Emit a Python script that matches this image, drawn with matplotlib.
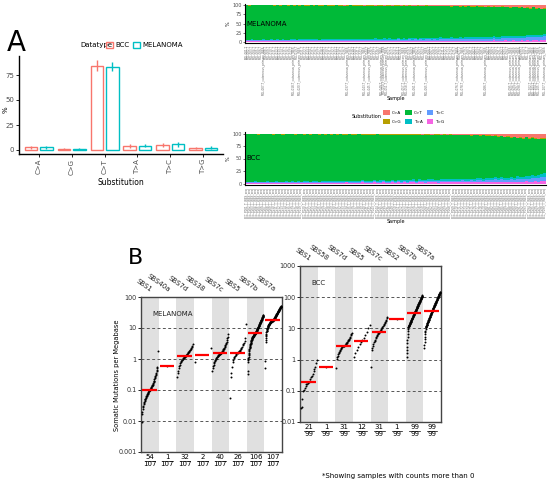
import numpy as np
import matplotlib
matplotlib.use("Agg")
import matplotlib.pyplot as plt
from matplotlib.patches import Patch

# ---------------- Panel A data ----------------
subs = ["C>A", "C>G", "C>T", "T>A", "T>C", "T>G"]
bcc_mean = [2.7, 1.0, 84.3, 4.0, 5.2, 2.1]
bcc_err = [1.5, 0.9, 5.5, 1.7, 2.3, 1.2]
mel_mean = [2.6, 1.0, 83.3, 4.3, 5.8, 2.5]
mel_err = [1.5, 0.8, 4.3, 1.6, 2.3, 1.4]

# ---------------- Stacked per-sample spectra (percent) ----------------
mel_tg = [2,2,3,2,2,2,3,2,2,2, 2,3,2,2,2,2,3,2,2,3, 2,2,2,3,2,2,2,3,2,2, 3,2,2,2,3,2,2,3,2,2,
          2,3,2,3,2,2,3,2,2,3, 2,2,3,2,3,2,2,3,3,2, 3,2,3,2,3,3,2,3,2,3, 3,2,3,3,2,3,3,2,3,3,
          3,2,3,3,3,2,3,3,4,3, 3,3,4,3,3,4,3,3,4,3, 4,3,4,4,3,4,5]
mel_tc = [2,2,2,2,2,2,2,2,2,2, 2,2,2,2,2,2,2,3,2,2, 2,3,2,2,3,2,2,3,2,3, 2,3,3,2,3,3,2,3,3,3,
          3,3,3,3,3,3,3,3,3,3, 3,4,3,3,4,3,4,3,4,4, 4,3,4,4,4,4,4,4,4,5, 4,5,4,5,5,4,5,5,5,5,
          5,5,6,5,5,6,6,5,6,6, 6,7,6,7,7,6,7,8,7,8, 8,9,8,9,10,9,10]
mel_ta = [2,2,2,2,2,2,2,2,2,3, 2,2,2,3,2,2,3,2,2,3, 3,2,3,2,3,3,2,3,3,3, 3,3,3,3,3,3,3,3,3,3,
          3,3,4,3,3,3,4,3,3,4, 3,4,3,4,3,4,4,3,4,4, 4,4,4,4,4,4,4,4,4,4, 4,4,4,5,4,4,5,4,5,4,
          5,5,4,5,5,5,5,5,5,5, 5,5,5,6,5,5,6,6,5,6, 6,6,6,7,6,7,7]
mel_cg = [0,1,0,0,1,0,0,1,0,0, 1,0,1,0,0,1,0,1,0,1, 0,1,1,0,1,0,1,1,0,1, 1,1,0,1,1,1,1,0,1,1,
          1,1,1,1,1,1,1,1,1,1, 1,1,1,1,1,1,1,1,1,1, 1,1,1,1,1,1,1,1,1,1, 1,1,1,1,1,1,1,1,1,1,
          1,1,1,1,1,1,1,1,1,1, 1,1,1,1,1,1,1,1,1,1, 1,2,1,1,2,1,2]
mel_ca = [0,1,0,1,0,1,1,0,1,1, 1,1,1,1,1,1,1,1,1,1, 1,1,1,1,1,1,1,1,1,1, 1,1,1,1,1,2,1,1,1,1,
          1,1,2,1,1,1,2,1,1,2, 1,1,2,1,1,2,1,2,1,2, 2,1,2,2,1,2,2,2,2,2, 2,2,2,3,2,2,3,2,3,2,
          3,3,2,3,3,4,3,4,3,5, 4,3,5,4,6,5,4,6,5,7, 6,8,5,9,7,10,8]

bcc_tg = [2,2,2,2,2,2,2,2,2,2, 2,2,2,2,2,2,2,2,2,2, 2,2,2,2,2,2,2,2,2,2, 2,2,2,3,2,2,2,2,3,2,
          2,2,3,2,2,3,2,2,3,2, 3,2,3,2,3,3,2,3,3,2, 3,3,3,2,3,3,3,3,3,3, 3,3,3,3,3,3,4,3,3,3,
          4,3,4,3,4,4,3,4,4,4, 4,4,5,4,4,5,4,5,5]
bcc_tc = [1,1,1,1,1,1,1,1,1,1, 1,1,1,1,1,1,1,2,1,1, 1,1,2,1,1,2,1,1,2,1, 2,1,2,1,2,2,1,2,2,2,
          2,2,2,2,2,2,2,2,2,2, 2,2,3,2,2,3,2,3,2,3, 3,3,2,3,3,3,3,3,3,3, 3,4,3,3,4,3,4,4,3,4,
          4,4,5,4,5,4,5,5,4,6, 5,6,5,6,7,6,7,8,9]
bcc_ta = [1,1,1,2,1,1,1,2,1,1, 2,1,1,2,1,2,1,2,1,2, 2,1,2,2,1,2,2,2,2,2, 2,2,2,2,2,2,2,2,2,2,
          2,2,2,2,3,2,2,2,3,2, 2,3,2,3,2,3,2,3,3,3, 3,3,3,3,3,3,3,3,3,3, 3,3,4,3,3,4,3,4,3,4,
          4,4,4,4,4,4,4,5,4,5, 5,4,5,5,6,5,6,6,7]
bcc_cg = [0,0,0,0,1,0,0,0,0,1, 0,0,1,0,0,0,1,0,0,1, 0,1,0,0,1,0,1,0,1,0, 1,0,1,1,0,1,1,0,1,1,
          1,1,1,0,1,1,1,1,1,1, 1,1,1,1,1,1,1,1,1,1, 1,1,1,1,1,1,1,1,1,1, 1,1,1,1,1,1,1,1,1,1,
          1,1,1,1,1,1,1,1,1,1, 1,2,1,1,1,2,1,2,2]
bcc_ca = [1,1,1,1,1,1,1,1,1,1, 1,1,1,1,1,1,1,1,1,1, 1,1,1,1,1,1,1,1,1,1, 1,1,1,1,1,1,1,1,1,1,
          1,1,1,1,1,1,1,1,1,1, 1,1,1,1,1,1,1,1,2,1, 1,2,1,1,2,1,2,1,2,2, 2,2,2,2,3,2,2,3,2,3,
          3,4,3,5,4,6,5,7,6,8, 7,8,6,9,7,8,10,9,8]

mel_long_idx = [6, 17, 19, 36, 42, 44, 48, 49, 50, 56, 57, 60, 64, 75, 77, 85,
                94, 95, 96, 97, 101, 102, 103, 104, 106]
mel_samples = [f"MEL-{i + 1:03d}-T" + ("_cutaneous_primary_WES" if i in mel_long_idx else "")
               for i in range(len(mel_tg))]
bcc_samples = [f"BCC_P{i + 1:03d}_T_WES_seq" for i in range(len(bcc_tg))]

sub_colors = {"C>A": "#F8766D", "C>G": "#B79F00", "C>T": "#00BA38",
              "T>A": "#00BFC4", "T>C": "#619CFF", "T>G": "#F564E3"}

# ---------------- Panel B data (mutations / Mb, sorted) ----------------
mel_sigs = ["SBS1", "SBS40a", "SBS7d", "SBS38", "SBS7c", "SBS5", "SBS7b", "SBS7a"]
mel_counts = ["54", "1", "32", "2", "40", "26", "106", "107"]
mel_total = "107"
mel_vals = [
    [0.009, 0.017, 0.02, 0.024, 0.028, 0.031, 0.035, 0.038, 0.042, 0.045,
     0.048, 0.05, 0.053, 0.056, 0.06, 0.063, 0.066, 0.07, 0.073, 0.076,
     0.08, 0.083, 0.086, 0.09, 0.093, 0.096, 0.1, 0.102, 0.106, 0.11,
     0.115, 0.12, 0.125, 0.13, 0.135, 0.14, 0.15, 0.16, 0.17, 0.18,
     0.19, 0.2, 0.22, 0.24, 0.26, 0.28, 0.3, 0.33, 0.36, 0.4, 0.45, 0.5, 0.55, 1.8],
    [0.6],
    [0.27, 0.35, 0.42, 0.5, 0.58, 0.65, 0.72, 0.78, 0.84, 0.9, 0.95, 1.0, 1.05, 1.1, 1.15, 1.2,
     1.22, 1.27, 1.33, 1.4, 1.48, 1.55, 1.63, 1.72, 1.8, 1.9, 2.0, 2.15, 2.3, 2.5, 2.7, 3.0],
    [0.82, 2.3],
    [0.42, 0.5, 0.58, 0.65, 0.72, 0.8, 0.86, 0.92, 0.98, 1.03, 1.08, 1.13, 1.18, 1.23, 1.28,
     1.33, 1.38, 1.43, 1.47, 1.5, 1.52, 1.57, 1.62, 1.7, 1.78, 1.86, 1.95, 2.05, 2.15, 2.3,
     2.45, 2.6, 2.8, 3.0, 3.3, 3.6, 4.0, 4.6, 5.3, 6.3],
    [0.056, 0.27, 0.35, 0.55, 0.8, 0.95, 1.05, 1.15, 1.25, 1.35, 1.45, 1.52, 1.58, 1.65, 1.75,
     1.85, 2.0, 2.15, 2.3, 2.5, 2.75, 3.0, 3.4, 3.9, 4.8, 13.5],
    [0.33, 0.4, 0.82, 0.9, 1.0, 1.1, 1.2, 1.3, 1.45, 1.6, 1.75, 1.9, 2.05, 2.2, 2.35, 2.5, 2.65,
     2.8, 2.95, 3.1, 3.25, 3.4, 3.55, 3.7, 3.85, 4.0, 4.15, 4.3, 4.45, 4.6, 4.75, 4.9, 5.0, 5.1,
     5.2, 5.3, 5.4, 5.5, 5.6, 5.7, 5.8, 5.9, 6.0, 6.1, 6.2, 6.3, 6.4, 6.5, 6.6, 6.7, 6.8, 6.9,
     7.0, 7.1, 7.28, 7.46, 7.65, 7.85, 8.05, 8.25, 8.46, 8.67, 8.89, 9.12, 9.35, 9.58, 9.83,
     10.1, 10.3, 10.6, 10.9, 11.1, 11.4, 11.7, 12.0, 12.3, 12.6, 12.9, 13.3, 13.6, 14.0, 14.3,
     14.7, 15.0, 15.4, 15.8, 16.2, 16.6, 17.0, 17.5, 17.9, 18.4, 18.8, 19.3, 19.8, 20.3, 20.8,
     21.3, 21.9, 22.4, 23.0, 23.6, 24.2, 24.8, 25.4, 26.0],
    [0.52, 0.84, 3.6, 4.2, 4.8, 5.4, 6.0, 6.6, 7.2, 7.8, 8.3, 8.7, 9.1, 9.5, 9.9, 10.3, 10.6,
     10.9, 11.2, 11.5, 11.8, 12.1, 12.4, 12.7, 13.0, 13.3, 13.5, 13.7, 13.9, 14.1, 14.3, 14.5,
     14.7, 14.9, 15.1, 15.3, 15.5, 15.7, 15.9, 16.1, 16.3, 16.5, 16.7, 16.8, 16.9, 17.0, 17.1,
     17.2, 17.3, 17.4, 17.5, 17.55, 17.6, 17.7, 18.1, 18.4, 18.8, 19.2, 19.6, 20.0, 20.4, 20.8,
     21.2, 21.6, 22.1, 22.5, 23.0, 23.4, 23.9, 24.4, 24.9, 25.4, 25.9, 26.4, 27.0, 27.5, 28.1,
     28.7, 29.2, 29.8, 30.4, 31.1, 31.7, 32.3, 33.0, 33.7, 34.4, 35.1, 35.8, 36.5, 37.2, 38.0,
     38.7, 39.5, 40.3, 41.1, 42.0, 42.8, 43.7, 44.6, 45.5, 46.4, 47.3, 48.3, 49.3, 50.3, 51.3],
]

bcc_sigs = ["SBS1", "SBS58", "SBS7d", "SBS5", "SBS7c", "SBS2", "SBS7b", "SBS7a"]
bcc_counts = ["21", "1", "31", "12", "31", "1", "99", "99"]
bcc_total = "99"
bcc_vals = [
    [0.029, 0.03, 0.054, 0.1, 0.11, 0.12, 0.14, 0.16, 0.17, 0.18, 0.19, 0.21, 0.24, 0.27, 0.3,
     0.35, 0.42, 0.5, 0.6, 0.75, 0.95],
    [0.6],
    [0.54, 1.07, 1.2, 1.35, 1.5, 1.65, 1.8, 1.95, 2.1, 2.25, 2.4, 2.5, 2.6, 2.7, 2.75, 2.8, 2.9,
     3.0, 3.15, 3.3, 3.5, 3.7, 3.9, 4.1, 4.4, 4.7, 5.0, 5.5, 6.0, 6.6, 7.3],
    [1.2, 1.6, 2.1, 2.6, 3.2, 3.8, 4.2, 5.0, 6.2, 7.8, 10.0, 13.0],
    [0.56, 2.05, 2.4, 2.8, 3.2, 3.6, 4.0, 4.4, 4.9, 5.4, 5.9, 6.3, 6.7, 7.0, 7.3, 7.6, 8.0, 8.5,
     9.0, 9.6, 10.2, 11.0, 11.8, 12.7, 13.7, 14.8, 16.0, 17.5, 19.0, 21.0, 23.5],
    [20.0],
    [1.25, 1.6, 2.0, 2.6, 3.3, 4.2, 5.2, 6.5, 8.0, 9.5, 11.0, 11.3, 11.6, 11.9, 12.3, 12.6, 12.9,
     13.3, 13.7, 14.0, 14.4, 14.8, 15.2, 15.6, 16.1, 16.5, 17.0, 17.4, 17.9, 18.4, 18.9, 19.4,
     19.9, 20.5, 21.0, 21.6, 22.2, 22.8, 23.4, 24.1, 24.7, 25.4, 26.1, 26.8, 27.6, 28.3, 29.1,
     29.9, 30.7, 31.6, 32.5, 33.4, 34.3, 35.2, 36.2, 37.1, 38.1, 39.2, 40.2, 41.3, 42.4, 43.6,
     44.8, 46.0, 47.2, 48.5, 49.8, 51.1, 52.5, 53.9, 55.4, 56.9, 58.4, 60.0, 61.6, 63.2, 65.0,
     66.7, 68.5, 70.4, 72.3, 74.2, 76.2, 78.3, 80.4, 82.6, 84.8, 87.1, 89.4, 91.8, 94.3, 96.9,
     99.5, 102, 105, 108, 111, 113, 116],
    [2.4, 3.0, 3.7, 4.5, 5.4, 6.4, 7.4, 8.5, 9.6, 10.7, 11.0, 11.4, 11.8, 12.1, 12.5, 12.9, 13.3,
     13.7, 14.1, 14.6, 15.0, 15.5, 16.0, 16.5, 17.0, 17.5, 18.1, 18.6, 19.2, 19.8, 20.4, 21.1,
     21.7, 22.4, 23.1, 23.9, 24.6, 25.4, 26.2, 27.0, 27.9, 28.7, 29.6, 30.6, 31.5, 32.5, 33.5,
     34.6, 35.7, 36.9, 38.0, 39.0, 40.2, 41.3, 42.5, 43.7, 45.0, 46.3, 47.6, 49.0, 50.4, 51.8,
     53.3, 54.8, 56.4, 58.0, 59.7, 61.4, 63.2, 65.0, 66.8, 68.7, 70.7, 72.7, 74.8, 77.0, 79.2,
     81.5, 83.8, 86.2, 88.7, 91.2, 93.8, 96.5, 99.3, 102, 105, 108, 111, 114, 117, 121, 124,
     128, 131, 135, 139, 143, 148],
]

# ---------------- Figure ----------------
W, H = 550, 483
fig = plt.figure(figsize=(W / 100, H / 100), dpi=100)
fig.patch.set_facecolor("white")
GREY = "#4d4d4d"


def add_ax(l, t, r, b):
    return fig.add_axes([l / W, 1 - b / H, (r - l) / W, (b - t) / H])


def fx(x):
    return x / W


def fy(y):
    return 1 - y / H


# ---- Panel A ----
axA = add_ax(19, 56, 223, 154)
x = np.arange(1, len(subs) + 1)
off, bw = 0.235, 0.38
axA.bar(x - off, bcc_mean, width=bw, facecolor="none", edgecolor="#F8766D", lw=1.0)
axA.bar(x + off, mel_mean, width=bw, facecolor="none", edgecolor="#00BFC4", lw=1.0)
axA.vlines(x - off, np.array(bcc_mean) - np.array(bcc_err), np.array(bcc_mean) + np.array(bcc_err),
           color="#F8766D", lw=1.0)
axA.vlines(x + off, np.array(mel_mean) - np.array(mel_err), np.array(mel_mean) + np.array(mel_err),
           color="#00BFC4", lw=1.0)
axA.set_xlim(0.4, 6.6)
axA.set_ylim(-4, 94)
axA.set_yticks([0, 25, 50, 75])
axA.set_xticks(x)
axA.set_xticklabels(subs, rotation=90)
axA.tick_params(labelsize=5, labelcolor=GREY, length=2, width=0.6, pad=1.5)
for s in ["top", "right"]:
    axA.spines[s].set_visible(False)
for s in ["left", "bottom"]:
    axA.spines[s].set_linewidth(1.0)
fig.text(fx(6), fy(110), "%", fontsize=5, rotation=90, ha="center", va="center")
axA.set_xlabel("Substitution", fontsize=5.5, labelpad=2)
fig.text(fx(7), fy(43), "A", fontsize=20, va="center", ha="left")
fig.text(fx(80), fy(45), "Datatype", fontsize=5, va="center", ha="left")
fig.legend(handles=[Patch(facecolor="none", edgecolor="#F8766D", lw=1.0),
                    Patch(facecolor="none", edgecolor="#00BFC4", lw=1.0)],
           labels=["BCC", "MELANOMA"], loc="center left", bbox_to_anchor=(fx(106), fy(45)),
           ncol=2, frameon=False, fontsize=5, handlelength=1.0, handleheight=1.0,
           columnspacing=0.5, handletextpad=0.35, borderpad=0, borderaxespad=0)

# ---- Stacked spectra panels ----
order = ["T>G", "T>C", "T>A", "C>T", "C>G", "C>A"]


def stacked(ax, tg, tc, ta, cg, ca, names, label):
    tg, tc, ta, cg, ca = [np.array(v, float) for v in (tg, tc, ta, cg, ca)]
    ct = 100 - (tg + tc + ta + cg + ca)
    comp = {"T>G": tg, "T>C": tc, "T>A": ta, "C>T": ct, "C>G": cg, "C>A": ca}
    n = len(tg)
    xs = np.arange(n)
    bottom = np.zeros(n)
    for k in order:
        ax.bar(xs, comp[k], bottom=bottom, width=1.0, color=sub_colors[k], lw=0)
        bottom += comp[k]
    ax.set_xlim(-0.5, n - 0.5)
    ax.set_ylim(-3, 103)
    ax.set_yticks([0, 25, 50, 75, 100])
    ax.set_xticks(xs)
    ax.set_xticklabels(names, rotation=90, fontsize=2)
    ax.tick_params(axis="x", labelcolor="#666666", length=1, width=0.3, pad=0.5)
    ax.tick_params(axis="y", labelsize=3.5, labelcolor=GREY, length=1.5, width=0.4, pad=1)
    for s in ["top", "right"]:
        ax.spines[s].set_visible(False)
    for s in ["left", "bottom"]:
        ax.spines[s].set_linewidth(0.8)
    ax.set_ylabel("%", fontsize=3.5, labelpad=1)
    ax.set_xlabel("Sample", fontsize=3.5, labelpad=1)
    ax.text(0.005, 0.5, label, transform=ax.transAxes, fontsize=5, va="center", ha="left")


axM = add_ax(245, 4, 546, 43)
stacked(axM, mel_tg, mel_tc, mel_ta, mel_cg, mel_ca, mel_samples, "MELANOMA")
axS = add_ax(245, 132, 546, 185)
stacked(axS, bcc_tg, bcc_tc, bcc_ta, bcc_cg, bcc_ca, bcc_samples, "BCC")

fig.text(fx(381), fy(117), "Substitution", fontsize=3.5, ha="right", va="center")
fig.legend(handles=[Patch(facecolor=sub_colors[k], lw=0) for k in subs], labels=subs,
           loc="center left", bbox_to_anchor=(fx(383), fy(117)), ncol=3, frameon=False,
           fontsize=3, handlelength=1.6, handleheight=1.6, labelspacing=0.8,
           columnspacing=0.9, handletextpad=0.5, borderpad=0, borderaxespad=0)

# ---- Panel B ----


def tmb_panel(ax, sigs, vals, counts, total, ylo, yhi, label, ax_h):
    n = len(sigs)
    for i in range(n):
        if i % 2 == 0:
            ax.axvspan(i, i + 1, color="#e0e0e0", lw=0, zorder=0)
    e = int(np.log10(ylo)) + 1
    while 10.0 ** e < yhi:
        ax.axhline(10.0 ** e, color="#555555", ls=(0, (3, 2.5)), lw=0.7, zorder=1)
        e += 1
    for i, v in enumerate(vals):
        v = np.array(v, float)
        k = len(v)
        if k > 1:
            xs = i + 0.05 + 0.9 * np.arange(k) / (k - 1)
        else:
            xs = np.array([i + 0.5])
        ax.scatter(xs, v, s=2.0, color="black", lw=0, zorder=3)
        med = 10 ** np.median(np.log10(v))
        ax.hlines(med, i + 0.06, i + 0.88, color="red", lw=1.6, zorder=4)
    ax.set_yscale("log")
    ax.set_ylim(ylo, yhi)
    ax.set_xlim(0, n)
    ticks = [10.0 ** p for p in range(int(round(np.log10(ylo))), int(round(np.log10(yhi))) + 1)]
    ax.set_yticks(ticks)
    ax.set_yticklabels([("%g" % t) for t in ticks])
    ax.yaxis.set_minor_locator(matplotlib.ticker.NullLocator())
    ax.set_xticks([])
    ax.tick_params(axis="y", labelsize=4.7, labelcolor="#333333", length=2, width=0.6, pad=1)
    for s in ax.spines.values():
        s.set_linewidth(1.0)
        s.set_color("#444444")
    tr = ax.get_xaxis_transform()
    for i, (sg, c) in enumerate(zip(sigs, counts)):
        ax.text(i + 0.5, 1 + 4 / ax_h, sg, transform=tr, rotation=-35, rotation_mode="anchor",
                ha="right", va="bottom", fontsize=5, color="#222222")
        ax.text(i + 0.5, -5 / ax_h, c, transform=tr, ha="center", va="center", fontsize=5)
        ax.plot([i + 0.2, i + 0.8], [-8.7 / ax_h] * 2, transform=tr, color="black", lw=0.5,
                clip_on=False)
        ax.text(i + 0.5, -12 / ax_h, total, transform=tr, ha="center", va="center", fontsize=5)
    ax.text(0.08, 1 - 17 / ax_h, label, transform=ax.transAxes, fontsize=5, ha="left",
            va="center", color="#222222")


axMel = add_ax(141, 297, 282, 452)
tmb_panel(axMel, mel_sigs, mel_vals, mel_counts, mel_total, 0.001, 100, "MELANOMA", 155)
axBcc = add_ax(300, 266, 441, 422)
tmb_panel(axBcc, bcc_sigs, bcc_vals, bcc_counts, bcc_total, 0.01, 1000, "BCC", 156)

fig.text(fx(117), fy(375), "Somatic Mutations per Megabase", rotation=90, fontsize=4.8,
         ha="center", va="center")
fig.text(fx(128), fy(258), "B", fontsize=16, ha="left", va="center")
fig.text(fx(322), fy(476), "*Showing samples with counts more than 0", fontsize=5,
         ha="left", va="center")

fig.savefig("out.png", dpi=100)
